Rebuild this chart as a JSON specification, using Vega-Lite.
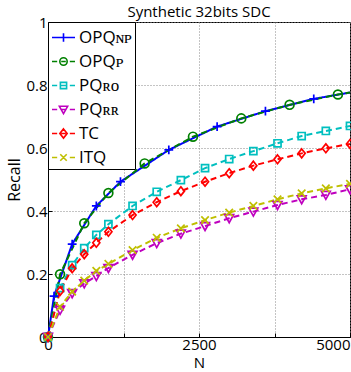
{
 "$schema": "https://vega.github.io/schema/vega-lite/v6.json",
 "width": 302, "height": 315,
 "autosize": {"type": "none"},
 "padding": {"left": 48, "top": 22, "right": 1, "bottom": 35},
 "background": "white",
 "title": {"text": "Synthetic 32bits SDC", "font": "Open Sans", "fontSize": 15, "fontWeight": "normal", "color": "black", "offset": -5},
 "data": {"values": [
  {"series": "OPQ_NP", "N": 0, "recall": 0},
  {"series": "OPQ_NP", "N": 100, "recall": 0.130},
  {"series": "OPQ_NP", "N": 400, "recall": 0.295},
  {"series": "OPQ_NP", "N": 800, "recall": 0.416},
  {"series": "OPQ_NP", "N": 1200, "recall": 0.493},
  {"series": "OPQ_NP", "N": 2000, "recall": 0.594},
  {"series": "OPQ_NP", "N": 2800, "recall": 0.668},
  {"series": "OPQ_NP", "N": 3600, "recall": 0.717},
  {"series": "OPQ_NP", "N": 4400, "recall": 0.756},
  {"series": "OPQ_NP", "N": 5000, "recall": 0.776},
  {"series": "OPQ_P", "N": 0, "recall": 0},
  {"series": "OPQ_P", "N": 200, "recall": 0.199},
  {"series": "OPQ_P", "N": 600, "recall": 0.361},
  {"series": "OPQ_P", "N": 1000, "recall": 0.457},
  {"series": "OPQ_P", "N": 1600, "recall": 0.551},
  {"series": "OPQ_P", "N": 2400, "recall": 0.636},
  {"series": "OPQ_P", "N": 3200, "recall": 0.694},
  {"series": "OPQ_P", "N": 4000, "recall": 0.737},
  {"series": "OPQ_P", "N": 4800, "recall": 0.770},
  {"series": "OPQ_P", "N": 5000, "recall": 0.776},
  {"series": "PQ_RO", "N": 0, "recall": 0},
  {"series": "PQ_RO", "N": 200, "recall": 0.155},
  {"series": "PQ_RO", "N": 400, "recall": 0.228},
  {"series": "PQ_RO", "N": 600, "recall": 0.282},
  {"series": "PQ_RO", "N": 800, "recall": 0.324},
  {"series": "PQ_RO", "N": 1000, "recall": 0.358},
  {"series": "PQ_RO", "N": 1400, "recall": 0.416},
  {"series": "PQ_RO", "N": 1800, "recall": 0.461},
  {"series": "PQ_RO", "N": 2200, "recall": 0.498},
  {"series": "PQ_RO", "N": 2600, "recall": 0.536},
  {"series": "PQ_RO", "N": 3000, "recall": 0.565},
  {"series": "PQ_RO", "N": 3400, "recall": 0.590},
  {"series": "PQ_RO", "N": 3800, "recall": 0.615},
  {"series": "PQ_RO", "N": 4200, "recall": 0.638},
  {"series": "PQ_RO", "N": 4600, "recall": 0.654},
  {"series": "PQ_RO", "N": 5000, "recall": 0.670},
  {"series": "PQ_RR", "N": 0, "recall": 0},
  {"series": "PQ_RR", "N": 200, "recall": 0.086},
  {"series": "PQ_RR", "N": 400, "recall": 0.139},
  {"series": "PQ_RR", "N": 600, "recall": 0.170},
  {"series": "PQ_RR", "N": 800, "recall": 0.193},
  {"series": "PQ_RR", "N": 1000, "recall": 0.219},
  {"series": "PQ_RR", "N": 1400, "recall": 0.261},
  {"series": "PQ_RR", "N": 1800, "recall": 0.298},
  {"series": "PQ_RR", "N": 2200, "recall": 0.328},
  {"series": "PQ_RR", "N": 2600, "recall": 0.352},
  {"series": "PQ_RR", "N": 3000, "recall": 0.377},
  {"series": "PQ_RR", "N": 3400, "recall": 0.398},
  {"series": "PQ_RR", "N": 3800, "recall": 0.419},
  {"series": "PQ_RR", "N": 4200, "recall": 0.437},
  {"series": "PQ_RR", "N": 4600, "recall": 0.451},
  {"series": "PQ_RR", "N": 5000, "recall": 0.469},
  {"series": "TC", "N": 0, "recall": 0},
  {"series": "TC", "N": 200, "recall": 0.146},
  {"series": "TC", "N": 400, "recall": 0.218},
  {"series": "TC", "N": 600, "recall": 0.263},
  {"series": "TC", "N": 800, "recall": 0.299},
  {"series": "TC", "N": 1000, "recall": 0.334},
  {"series": "TC", "N": 1400, "recall": 0.387},
  {"series": "TC", "N": 1800, "recall": 0.428},
  {"series": "TC", "N": 2200, "recall": 0.463},
  {"series": "TC", "N": 2600, "recall": 0.493},
  {"series": "TC", "N": 3000, "recall": 0.520},
  {"series": "TC", "N": 3400, "recall": 0.544},
  {"series": "TC", "N": 3800, "recall": 0.564},
  {"series": "TC", "N": 4200, "recall": 0.583},
  {"series": "TC", "N": 4600, "recall": 0.599},
  {"series": "TC", "N": 5000, "recall": 0.613},
  {"series": "ITQ", "N": 0, "recall": 0},
  {"series": "ITQ", "N": 200, "recall": 0.096},
  {"series": "ITQ", "N": 400, "recall": 0.144},
  {"series": "ITQ", "N": 600, "recall": 0.179},
  {"series": "ITQ", "N": 800, "recall": 0.210},
  {"series": "ITQ", "N": 1000, "recall": 0.232},
  {"series": "ITQ", "N": 1400, "recall": 0.276},
  {"series": "ITQ", "N": 1800, "recall": 0.315},
  {"series": "ITQ", "N": 2200, "recall": 0.345},
  {"series": "ITQ", "N": 2600, "recall": 0.371},
  {"series": "ITQ", "N": 3000, "recall": 0.395},
  {"series": "ITQ", "N": 3400, "recall": 0.416},
  {"series": "ITQ", "N": 3800, "recall": 0.437},
  {"series": "ITQ", "N": 4200, "recall": 0.456},
  {"series": "ITQ", "N": 4600, "recall": 0.472},
  {"series": "ITQ", "N": 5000, "recall": 0.486}
 ]},
 "encoding": {
  "x": {"field": "N", "type": "quantitative", "title": "N",
        "scale": {"domain": [0, 5000], "nice": false, "zero": false},
        "axis": {"values": [0, 1250, 2500, 3750, 5000], "format": "d",
                 "labelExpr": "datum.value % 2500 === 0 ? datum.label : ''",
                 "labelAlign": {"expr": "datum.value == 5000 ? 'right' : 'center'"},
                 "grid": true, "gridDash": [1, 2], "gridColor": "#888888",
                 "tickSize": -4, "labelPadding": 4, "titlePadding": 3, "titleFontSize": 15}},
  "y": {"field": "recall", "type": "quantitative", "title": "Recall",
        "scale": {"domain": [0, 1], "nice": false},
        "axis": {"values": [0, 0.2, 0.4, 0.6, 0.8, 1], "format": ".1~f",
                 "grid": true, "gridDash": [1, 2], "gridColor": "#888888",
                 "tickSize": -4, "labelPadding": 5, "titlePadding": 3}}
 },
 "layer": [
  {"mark": {"type": "line", "strokeWidth": 2},
   "encoding": {
    "color": {"field": "series", "type": "nominal", "legend": null,
              "scale": {"domain": ["OPQ_NP", "OPQ_P", "PQ_RO", "PQ_RR", "TC", "ITQ"],
                        "range": ["#0000FF", "#008000", "#00BFBF", "#BF00BF", "#FF0000", "#BFBF00"]}},
    "strokeDash": {"field": "series", "type": "nominal", "legend": null,
                "scale": {"domain": ["OPQ_NP", "OPQ_P", "PQ_RO", "PQ_RR", "TC", "ITQ"],
                          "range": [[1, 0], [6, 4], [6, 4], [6, 4], [6, 4], [6, 4]]}}}},
  {"transform": [{"filter": "!(datum.N == 5000 && (datum.series == 'OPQ_NP' || datum.series == 'OPQ_P'))"}],
   "mark": {"type": "point", "filled": false, "strokeWidth": 1.7, "size": 78, "opacity": 1},
   "encoding": {
    "color": {"field": "series", "type": "nominal", "legend": null,
              "scale": {"domain": ["OPQ_NP", "OPQ_P", "PQ_RO", "PQ_RR", "TC", "ITQ"],
                        "range": ["#0000FF", "#008000", "#00BFBF", "#BF00BF", "#FF0000", "#BFBF00"]}},
    "shape": {"field": "series", "type": "nominal", "legend": null,
                "scale": {"domain": ["OPQ_NP", "OPQ_P", "PQ_RO", "PQ_RR", "TC", "ITQ"],
                          "range": ["M-1,0H1M0,-1V1", "circle", "M-0.8,-0.8H0.8V0.8H-0.8Z", "M-1,-0.8H1L0,1Z", "M0,-1L0.8,0L0,1L-0.8,0Z", "M-0.85,-0.85L0.85,0.85M-0.85,0.85L0.85,-0.85"]}}}},
  {"transform": [{"filter": "false"}],
   "mark": {"type": "point", "filled": false, "strokeWidth": 1.6, "opacity": 1},
   "encoding": {
    "color": {"field": "series", "type": "nominal",
              "scale": {"domain": ["OPQ_NP", "OPQ_P", "PQ_RO", "PQ_RR", "TC", "ITQ"],
                        "range": ["#0000FF", "#008000", "#00BFBF", "#BF00BF", "#FF0000", "#BFBF00"]},
              "legend": {"title": null, "labelExpr": "datum.label == 'OPQ_NP' ? 'OPQɴᴘ' : datum.label == 'OPQ_P' ? 'OPQᴘ' : datum.label == 'PQ_RO' ? 'PQʀᴏ' : datum.label == 'PQ_RR' ? 'PQʀʀ' : datum.label"}},
    "shape": {"field": "series", "type": "nominal",
                "legend": {"title": null, "labelExpr": "datum.label == 'OPQ_NP' ? 'OPQɴᴘ' : datum.label == 'OPQ_P' ? 'OPQᴘ' : datum.label == 'PQ_RO' ? 'PQʀᴏ' : datum.label == 'PQ_RR' ? 'PQʀʀ' : datum.label"},
                "scale": {"domain": ["OPQ_NP", "OPQ_P", "PQ_RO", "PQ_RR", "TC", "ITQ"],
                          "range": ["M-1,0H1M0,-0.36V0.36",
                                    "M-1,0H-0.55M-0.2,0H0.2M0.55,0H1M-0.32,0A0.32,0.32,0,1,1,0.32,0A0.32,0.32,0,1,1,-0.32,0Z",
                                    "M-1,0H-0.55M-0.2,0H0.2M0.55,0H1M-0.27,-0.27H0.27V0.27H-0.27Z",
                                    "M-1,0H-0.55M-0.2,0H0.2M0.55,0H1M-0.36,-0.28H0.36L0,0.36Z",
                                    "M-1,0H-0.55M-0.2,0H0.2M0.55,0H1M0,-0.4L0.32,0L0,0.4L-0.32,0Z",
                                    "M-1,0H-0.55M0.55,0H1M-0.28,-0.28L0.28,0.28M-0.28,0.28L0.28,-0.28"]}}}}
 ],
 "resolve": {"scale": {"shape": "independent", "color": "independent"}},
 "config": {
  "view": {"stroke": "black", "strokeWidth": 1},
  "axis": {"labelFont": "Open Sans", "labelFontSize": 15, "labelColor": "black",
           "titleFont": "Open Sans", "titleFontSize": 16, "titleFontWeight": "normal", "titleColor": "black",
           "domainColor": "black", "domainWidth": 1, "tickColor": "black"},
  "legend": {"orient": "top-left", "offset": 0, "padding": 3, "rowPadding": 3,
             "symbolSize": 529, "labelOffset": 3, "symbolStrokeWidth": 1.6,
             "labelFont": "Open Sans", "labelFontSize": 17, "labelColor": "black",
             "strokeColor": "black", "fillColor": "white", "symbolFillColor": "transparent"}
 }
}
